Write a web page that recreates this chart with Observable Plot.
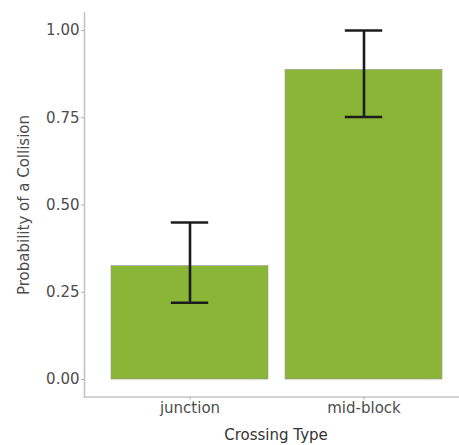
<!DOCTYPE html>
<html>
<head>
<meta charset="utf-8">
<script src="https://cdn.jsdelivr.net/npm/d3@7"></script>
<script src="https://cdn.jsdelivr.net/npm/@observablehq/plot@0.6"></script>
<style>
  html, body { margin: 0; padding: 0; background: #fff; }
</style>
</head>
<body>
<div id="chart"></div>
<script>
const crossingTypes = ["junction", "mid-block"];
const probabilities = [0.325, 0.887];
const lowerCI = [0.22, 0.752];
const upperCI = [0.45, 1.0];
const yTicks = [0, 0.25, 0.5, 0.75, 1.0];
const xTitle = "Crossing Type";
const yTitle = "Probability of a Collision";

const data = crossingTypes.map((c, i) => ({
  type: c, p: probabilities[i], lo: lowerCI[i], hi: upperCI[i]
}));

const chart = Plot.plot({
  width: 459,
  height: 445,
  marginLeft: 84,
  marginRight: 0,
  marginTop: 12.5,
  marginBottom: 48.5,
  style: { fontFamily: "DejaVu Sans, sans-serif", fontSize: "15px", background: "#fff" },
  x: { domain: crossingTypes, range: [84.6, 467.4], paddingInner: 0.1, paddingOuter: 0.15, align: 0.5 },
  y: { domain: [-0.05, 1.05] },
  marks: [
    Plot.barY(data, { x: "type", y1: 0, y2: "p", fill: "#8ab536", stroke: "#9a9a9a", strokeWidth: 0.6 }),
    Plot.ruleX(data, { x: "type", y1: "lo", y2: "hi", stroke: "#1c1c1c", strokeWidth: 2.6 }),
    Plot.tickY(data, { x: "type", y: "lo", stroke: "#1c1c1c", strokeWidth: 2.6, inset: 59.8 }),
    Plot.tickY(data, { x: "type", y: "hi", stroke: "#1c1c1c", strokeWidth: 2.6, inset: 59.8 }),
    Plot.frame({ anchor: "left", stroke: "#c4c4c4", strokeWidth: 1.6 }),
    Plot.frame({ anchor: "bottom", stroke: "#c4c4c4", strokeWidth: 1.6 }),
    Plot.axisY({
      ticks: yTicks, tickFormat: d3.format(".2f"), tickSize: 3, tickPadding: 2,
      stroke: "#b0b0b0", color: "#4d4d4d",
      label: yTitle, labelAnchor: "center", labelArrow: false, labelOffset: 66
    }),
    Plot.axisX({
      tickSize: 3, tickPadding: 2, stroke: "#b0b0b0", color: "#4d4d4d", label: null
    }),
    Plot.text([xTitle], {
      text: d => d, frameAnchor: "bottom", lineAnchor: "middle", dy: 38.5, dx: 4,
      fill: "#333", fontSize: 15
    })
  ]
});

document.getElementById("chart").appendChild(chart);
</script>
</body>
</html>
